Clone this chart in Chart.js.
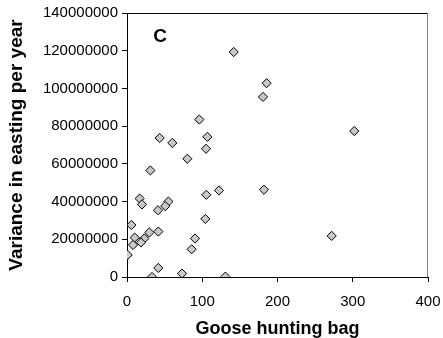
<!DOCTYPE html>
<html>
<head>
<meta charset="utf-8">
<script src="https://cdn.jsdelivr.net/npm/chart.js@4/dist/chart.umd.min.js"></script>
<style>
html,body{margin:0;padding:0;background:#fff;}
#wrap{width:443px;height:338px;position:relative;}
</style>
</head>
<body>
<div id="wrap"><canvas id="c" width="443" height="338"></canvas></div>
<script>
const huntingBag = [141.8,185.6,180.7,96.1,302,106.8,43.4,60.2,105,80.2,31,122.3,182,105.4,16.8,19.9,55,50.9,41.2,104.1,5.8,29.7,41.6,10.2,23,18.6,8,90.4,85.9,272,0.9,41.6,33.2,73.1,130.7];
const variance = [119.3,102.8,95.5,83.5,77.4,74.3,73.7,71.1,68.0,62.7,56.5,45.9,46.3,43.6,41.6,38.5,40.0,37.6,35.4,30.8,27.6,23.6,24.1,20.9,20.4,18.3,17.0,20.4,14.7,21.8,11.7,4.8,0,1.8,0.2].map(v => v * 1000000);
const xTicks = [0,100,200,300,400];
const yTicks = [0,20000000,40000000,60000000,80000000,100000000,120000000,140000000];
const panelLabel = 'C';
const xTitle = 'Goose hunting bag';
const yTitle = 'Variance in easting per year';

const points = huntingBag.map((x, i) => ({x: x, y: variance[i]}));

const framePlugin = {
  id: 'frame',
  afterDraw(chart) {
    const {ctx, chartArea: a} = chart;
    ctx.save();
    ctx.lineWidth = 1;
    ctx.strokeStyle = '#000';
    ctx.beginPath();
    ctx.moveTo(a.left, a.top + 0.5);
    ctx.lineTo(a.right, a.top + 0.5);
    ctx.stroke();
    ctx.strokeStyle = '#808080';
    ctx.beginPath();
    ctx.moveTo(a.right - 0.5, a.top);
    ctx.lineTo(a.right - 0.5, a.bottom);
    ctx.stroke();
    ctx.fillStyle = '#000';
    ctx.font = 'bold 19px "Liberation Sans", Arial, sans-serif';
    ctx.textAlign = 'center';
    ctx.textBaseline = 'alphabetic';
    ctx.fillText(panelLabel, a.left + 33, a.top + 29);
    ctx.restore();
  }
};

const tickFont = {family: '"Liberation Sans", Arial, sans-serif', size: 15};
const xTitleFont = {family: '"Liberation Sans", Arial, sans-serif', size: 18, weight: 'bold', lineHeight: 1};
const yTitleFont = {family: '"Liberation Sans", Arial, sans-serif', size: 19, weight: 'bold', lineHeight: 1};

new Chart(document.getElementById('c'), {
  type: 'scatter',
  data: {
    datasets: [{
      data: points,
      pointStyle: 'rectRot',
      pointRadius: 4.6,
      pointHoverRadius: 4.6,
      backgroundColor: '#c8c8c8',
      borderColor: '#000',
      borderWidth: 1
    }]
  },
  options: {
    responsive: false,
    animation: false,
    events: [],
    layout: {padding: {left: 0, right: 15, top: 13, bottom: 0}},
    plugins: {legend: {display: false}, tooltip: {enabled: false}},
    scales: {
      x: {
        type: 'linear',
        min: 0, max: 400,
        afterBuildTicks(s) { s.ticks = xTicks.map(v => ({value: v})); },
        afterFit(s) { s.height = 61; s.paddingLeft = 0; s.paddingRight = 0; },
        grid: {drawOnChartArea: false, drawTicks: true, tickLength: 5, color: '#000'},
        border: {color: '#000', width: 1},
        ticks: {color: '#000', font: tickFont, padding: 11, maxRotation: 0, callback: v => String(v)},
        title: {display: true, text: xTitle, color: '#000', font: xTitleFont, padding: {top: 0, bottom: 0}}
      },
      y: {
        type: 'linear',
        min: 0, max: 140000000,
        afterBuildTicks(s) { s.ticks = yTicks.map(v => ({value: v})); },
        afterFit(s) { s.width = 127; s.paddingTop = 0; s.paddingBottom = 0; },
        grid: {drawOnChartArea: false, drawTicks: true, tickLength: 5, color: '#000'},
        border: {color: '#000', width: 1},
        ticks: {color: '#000', font: tickFont, padding: 4, callback: v => String(v)},
        title: {display: true, text: yTitle, color: '#000', font: yTitleFont, padding: {top: 7.5, bottom: 0}}
      }
    }
  },
  plugins: [framePlugin]
});
</script>
</body>
</html>
